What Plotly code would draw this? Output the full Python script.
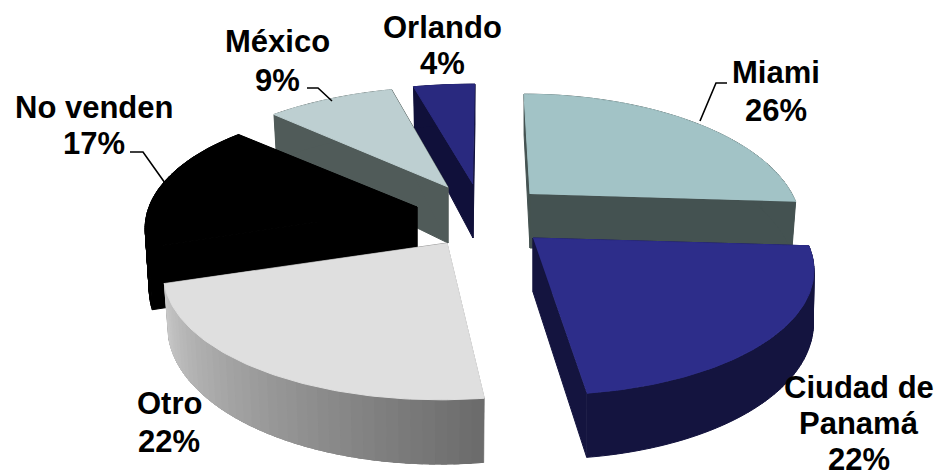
import numpy as np
import plotly.graph_objects as go

categories = ["Miami", "Ciudad de Panamá", "Otro", "No venden", "México", "Orlando"]
values = [26, 22, 22, 17, 9, 4]
top_colors = ["#A2C3C6", "#2D2D8A", "#DFDFDF", "#000000", "#BDCFD1", "#29297F"]
side_colors = ["#445251", "#14143F", "#9A9A9A", "#000000", "#505B59", "#10103A"]
# exploded slice positions on the page: apex, horizontal radius, skew, wall height, wall taper
apex_x = [530, 533, 447, 417, 448, 473]
apex_y = [194, 238, 243, 207, 187, 184]
radius_x = [262, 272, 275, 268, 275, 300]
skew = [0.06, 0.065, -0.045, 0.12, 0.0, -0.02]
depth = [50, 50, 50, 58, 52, 50]
taper = [0.985, 0.998, 0.985, 0.985, 0.985, 0.985]
draw_order = [5, 4, 0, 3, 1, 2]

label_lines = [["Miami", "26%"], ["Ciudad de", "Panamá", "22%"], ["Otro", "22%"],
               ["No venden", "17%"], ["México", "9%"], ["Orlando", "4%"]]
label_x = [776, 859, 169, 94, 277, 442]
label_y = [[72, 110], [387, 423, 459], [403, 441], [107, 143], [41, 80], [27, 63]]
leaders = [([700, 716, 727], [121, 83, 83]),
           ([307, 318, 332], [88, 88, 101]),
           ([130, 143, 165], [152, 152, 183])]

RY, PERSP = 122.0, 0.222
FONT = dict(family="Liberation Sans, Arial, sans-serif", size=31, color="#000000")


def rim(i, t):
    """Project angle t (radians, clockwise from 12 o'clock); returns top and bottom points."""
    X, Y = np.sin(t), np.cos(t)
    w = 1 / (1 + PERSP * Y)
    dx = radius_x[i] * X * w
    dy = -RY * Y * w
    dx = dx + skew[i] * dy
    return (apex_x[i] + dx, apex_y[i] + dy,
            apex_x[i] + taper[i] * dx, apex_y[i] + dy + depth[i] * w)


def poly(xs, ys, color):
    return go.Scatter(x=list(xs), y=list(ys), mode="lines", fill="toself", fillcolor=color,
                      line=dict(color=color, width=1), hoverinfo="skip", showlegend=False)


def lerp_grey(f):
    g = int(round(202 + (108 - 202) * f))
    return f"rgb({g},{g},{g})"


fig = go.Figure()
edges = np.radians(np.cumsum([0] + values) * 3.6)

for i in draw_order:
    a, b = edges[i], edges[i + 1]
    t = np.linspace(a, b, 80)
    tx, ty, bx, by = rim(i, t)
    ax, ay = apex_x[i], apex_y[i]
    ay2 = ay + depth[i] + 4
    # cut faces
    fig.add_trace(poly([tx[0], ax, ax, bx[0]], [ty[0], ay, ay2, by[0]], side_colors[i]))
    fig.add_trace(poly([tx[-1], ax, ax, bx[-1]], [ty[-1], ay, ay2, by[-1]], side_colors[i]))
    # outer wall, as separate quads so that a fold of the strip leaves no hole
    wx, wy = [], []
    for k in range(79):
        wx += [tx[k], tx[k + 1], bx[k + 1], bx[k], tx[k], None]
        wy += [ty[k], ty[k + 1], by[k + 1], by[k], ty[k], None]
    fig.add_trace(poly(wx, wy, side_colors[i]))
    if categories[i] == "Otro":
        for k in range(0, 77, 2):
            j = min(k + 3, 79)
            f = 1 - k / 78
            fig.add_trace(poly([tx[k], tx[j], bx[j], bx[k]], [ty[k], ty[j], by[j], by[k]], lerp_grey(f)))
    # top face
    fig.add_trace(poly(np.r_[ax, tx], np.r_[ay, ty], top_colors[i]))

for lx, ly in leaders:
    fig.add_trace(go.Scatter(x=lx, y=ly, mode="lines", line=dict(color="#000000", width=1.6),
                             hoverinfo="skip", showlegend=False))

annotations = []
for lines, x, ys in zip(label_lines, label_x, label_y):
    for text, y in zip(lines, ys):
        annotations.append(dict(x=x, y=y, xref="x", yref="y", text=f"<b>{text}</b>",
                                showarrow=False, font=FONT, xanchor="center", yanchor="middle"))

fig.update_layout(
    width=938, height=472, margin=dict(l=0, r=0, t=0, b=0),
    paper_bgcolor="white", plot_bgcolor="white", annotations=annotations,
    xaxis=dict(range=[0, 938], visible=False, fixedrange=True),
    yaxis=dict(range=[472, 0], visible=False, fixedrange=True),
)
fig.write_html("out.html", config=dict(displayModeBar=False),
               post_script="document.body.style.margin='0';document.body.style.overflow='hidden';")
